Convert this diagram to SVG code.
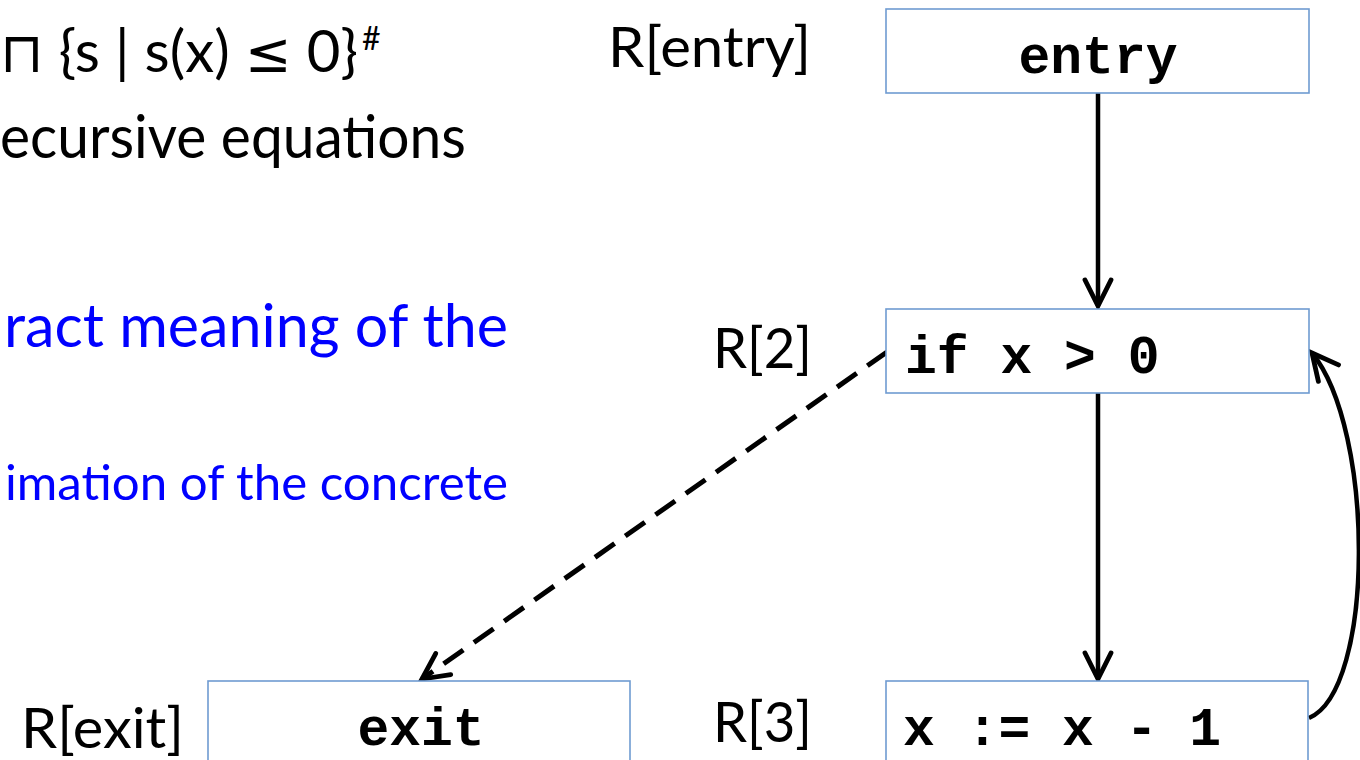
<svg xmlns="http://www.w3.org/2000/svg" width="1360" height="760" viewBox="0 0 1360 760">
<style>
.box{fill:#ffffff;stroke:#6f9bd1;stroke-width:1.6}
.code{font-family:"Liberation Mono","Courier New",monospace;font-weight:bold;font-size:53px;fill:#000}
.lbl{font-family:Lato,"Open Sans","Liberation Sans",sans-serif;font-size:57px;fill:#000}
.txt{font-family:Lato,"Open Sans","Liberation Sans",sans-serif;fill:#000}
.sym{font-family:"DejaVu Sans",sans-serif}
.blue{fill:#0000ff}
.edge{fill:none;stroke:#000;stroke-width:4.5}
.dash{stroke-dasharray:24 13;stroke-width:5}
</style>
<defs>
<marker id="arr" markerUnits="userSpaceOnUse" orient="auto" refX="0" refY="0" markerWidth="40" markerHeight="40" viewBox="-30 -20 40 40" overflow="visible">
<path d="M-26,-13 L0,0 L-26,13" fill="none" stroke="#000" stroke-width="4.8" stroke-dasharray="none" stroke-linejoin="miter" stroke-linecap="round"/>
</marker>
</defs>
<rect width="1360" height="760" fill="#ffffff"/>
<g id="text-left">
<text class="txt" x="0" y="72" font-size="58" textLength="358" lengthAdjust="spacing"><tspan class="sym" font-size="56">⊓</tspan> {s | s(x) <tspan class="sym" font-size="56">≤</tspan> 0}</text>
<text class="txt" x="362" y="50" font-size="32">#</text>
<text class="txt" x="0" y="158" font-size="60" textLength="466" lengthAdjust="spacingAndGlyphs">ecursive equations</text>
<text class="txt blue" x="4" y="347" font-size="60" textLength="504" lengthAdjust="spacingAndGlyphs">ract meaning of the</text>
<text class="txt blue" x="5" y="500" font-size="49" textLength="503" lengthAdjust="spacingAndGlyphs">imation of the concrete</text>
</g>
<g id="connectors">
<path class="edge" d="M1098,93 L1098,306" marker-end="url(#arr)"/>
<path class="edge" d="M1098,393 L1098,679" marker-end="url(#arr)"/>
<path class="edge dash" d="M887,352 L422,679" marker-end="url(#arr)"/>
<path class="edge" d="M1309,718 C1375,690 1375,430 1312,353" marker-end="url(#arr)"/>
</g>
<g id="node-entry">
<rect class="box" x="886" y="9" width="423" height="84"/>
<text class="code" x="1098" y="73" text-anchor="middle">entry</text>
<text class="lbl" x="811" y="67" text-anchor="end" textLength="203" lengthAdjust="spacingAndGlyphs">R[entry]</text>
</g>
<g id="node-if">
<rect class="box" x="886" y="309" width="423" height="84"/>
<text class="code" x="905" y="373">if x &gt; 0</text>
<text class="lbl" x="812" y="368" text-anchor="end" textLength="99" lengthAdjust="spacingAndGlyphs">R[2]</text>
</g>
<g id="node-assign">
<rect class="box" x="886" y="681" width="422" height="100"/>
<text class="code" x="903" y="745">x := x - 1</text>
<text class="lbl" x="812" y="742" text-anchor="end" textLength="99" lengthAdjust="spacingAndGlyphs">R[3]</text>
</g>
<g id="node-exit">
<rect class="box" x="208" y="681" width="422" height="100"/>
<text class="code" x="421" y="745" text-anchor="middle">exit</text>
<text class="lbl" x="184" y="748" text-anchor="end" textLength="163" lengthAdjust="spacingAndGlyphs">R[exit]</text>
</g>
</svg>
